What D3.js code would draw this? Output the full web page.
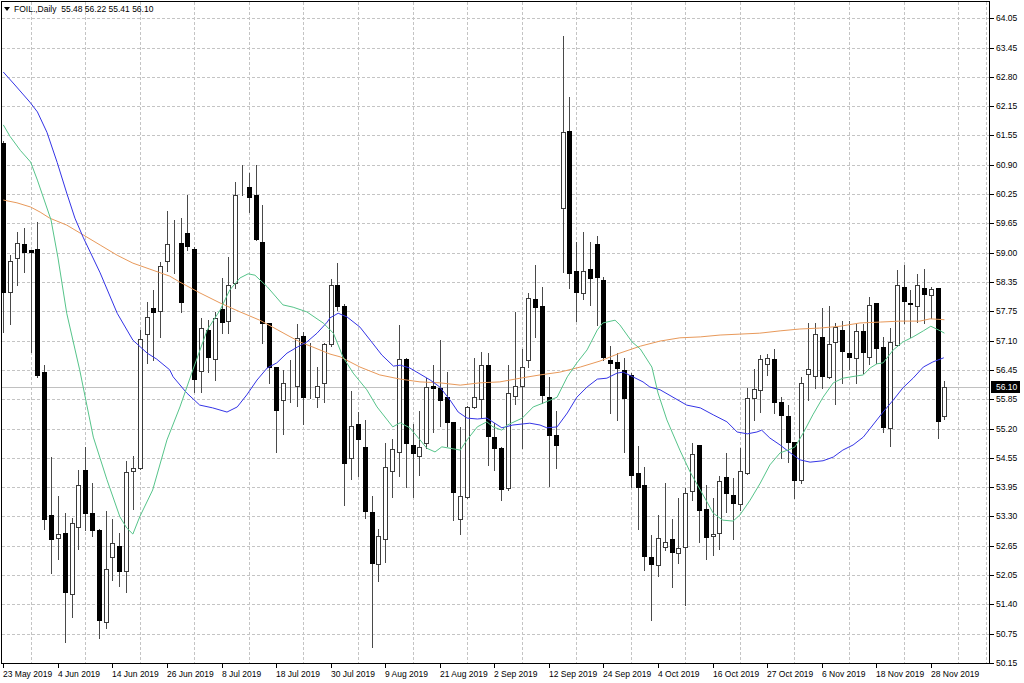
<!DOCTYPE html>
<html><head><meta charset="utf-8">
<script src="https://cdn.jsdelivr.net/npm/d3@7"></script>
<style>
body{margin:0;background:#fff}
svg{display:block}
text{font-family:"Liberation Sans",Arial,sans-serif}
</style>
</head><body>
<svg id="chart" width="1024" height="683"></svg>
<script>
// ---------- DATA ----------
const symbolTitle = "FOIL.,Daily";
const dates = [
"2019-05-23","2019-05-24","2019-05-27","2019-05-28","2019-05-29","2019-05-30","2019-05-31",
"2019-06-03","2019-06-04","2019-06-05","2019-06-06","2019-06-07","2019-06-10","2019-06-11","2019-06-12","2019-06-13","2019-06-14","2019-06-17","2019-06-18","2019-06-19","2019-06-20","2019-06-21","2019-06-24","2019-06-25","2019-06-26","2019-06-27","2019-06-28",
"2019-07-01","2019-07-02","2019-07-03","2019-07-04","2019-07-05","2019-07-08","2019-07-09","2019-07-10","2019-07-11","2019-07-12","2019-07-15","2019-07-16","2019-07-17","2019-07-18","2019-07-19","2019-07-22","2019-07-23","2019-07-24","2019-07-25","2019-07-26","2019-07-29","2019-07-30","2019-07-31",
"2019-08-01","2019-08-02","2019-08-05","2019-08-06","2019-08-07","2019-08-08","2019-08-09","2019-08-12","2019-08-13","2019-08-14","2019-08-15","2019-08-16","2019-08-19","2019-08-20","2019-08-21","2019-08-22","2019-08-23","2019-08-26","2019-08-27","2019-08-28","2019-08-29","2019-08-30",
"2019-09-02","2019-09-03","2019-09-04","2019-09-05","2019-09-06","2019-09-09","2019-09-10","2019-09-11","2019-09-12","2019-09-13","2019-09-16","2019-09-17","2019-09-18","2019-09-19","2019-09-20","2019-09-23","2019-09-24","2019-09-25","2019-09-26","2019-09-27","2019-09-30",
"2019-10-01","2019-10-02","2019-10-03","2019-10-04","2019-10-07","2019-10-08","2019-10-09","2019-10-10","2019-10-11","2019-10-14","2019-10-15","2019-10-16","2019-10-17","2019-10-18","2019-10-21","2019-10-22","2019-10-23","2019-10-24","2019-10-25","2019-10-27","2019-10-28","2019-10-29","2019-10-30","2019-10-31",
"2019-11-01","2019-11-04","2019-11-05","2019-11-06","2019-11-07","2019-11-08","2019-11-11","2019-11-12","2019-11-13","2019-11-14","2019-11-15","2019-11-18","2019-11-19","2019-11-20","2019-11-21","2019-11-22","2019-11-25","2019-11-26","2019-11-27","2019-11-28","2019-11-29",
"2019-12-02"];

const open = [61.36,58.15,58.88,59.18,59.05,59.08,56.42,53.34,52.85,52.95,51.64,53.08,54.31,53.38,53.02,51.03,52.44,52.67,52.13,54.29,
54.35,57.24,57.80,57.74,58.82,59.24,59.20,59.42,59.08,56.45,57.33,56.70,57.78,57.52,58.34,60.39,60.41,60.24,59.23,57.48,
56.53,55.82,56.20,56.12,57.20,55.89,55.89,56.19,57.03,58.30,57.85,54.57,55.30,54.81,53.41,52.28,52.82,54.29,54.70,56.70,
54.85,54.61,54.89,56.12,56.08,55.89,55.35,53.25,53.73,55.67,55.84,56.57,55.02,54.79,53.92,55.91,56.12,56.68,58.00,57.85,
55.89,55.07,59.96,61.62,58.60,58.13,58.64,59.18,58.41,56.68,56.64,56.47,56.36,54.25,53.99,52.44,52.26,52.65,52.82,52.52,
52.65,53.86,54.85,53.47,52.89,52.95,54.16,53.77,53.58,54.25,55.86,56.04,56.60,56.70,55.78,55.48,54.91,54.10,56.38,56.34,
57.18,56.32,57.07,57.33,56.83,56.73,57.31,56.75,57.91,56.96,55.22,57.00,58.26,57.91,57.85,58.23,58.08,58.23,55.48];
const high = [61.40,58.95,59.44,59.53,59.05,59.66,56.57,54.59,53.75,53.38,53.28,54.31,54.81,54.03,53.04,53.43,53.26,52.95,54.51,54.61,
57.33,57.93,58.19,58.79,59.89,59.70,59.74,60.24,59.12,57.59,57.54,57.72,58.45,58.90,60.52,60.89,60.71,60.89,60.02,57.48,
56.53,56.47,56.68,57.46,57.29,57.05,56.53,57.05,58.43,58.77,57.89,56.01,55.56,55.39,53.75,53.04,54.89,54.98,57.44,56.73,
55.30,55.58,56.29,56.57,57.11,56.42,55.35,55.24,55.70,56.73,56.85,56.83,55.32,54.81,56.57,57.72,56.92,58.13,58.73,58.26,
56.32,55.58,63.67,62.35,59.23,59.44,59.23,59.36,58.47,56.98,56.83,56.73,56.40,54.83,54.38,52.91,53.34,54.03,53.26,53.71,
53.92,54.89,54.85,53.99,53.71,54.18,54.68,54.14,54.79,56.08,56.49,56.79,56.81,56.92,55.89,55.71,54.91,56.32,57.48,57.48,
57.80,57.85,57.48,57.52,57.52,57.46,57.46,58.04,57.91,57.18,57.37,58.62,58.73,58.19,58.54,58.64,58.26,58.23,56.22];
const low = [57.29,57.46,58.30,58.58,56.85,56.32,53.04,52.09,52.40,50.60,51.14,52.61,53.02,52.89,50.69,50.91,51.94,51.81,51.68,53.47,
54.33,56.62,56.68,57.18,58.60,58.56,57.72,59.05,55.99,55.99,56.42,56.25,57.26,57.26,58.23,60.24,59.87,59.27,57.05,56.19,
54.70,55.09,55.78,55.69,55.30,55.86,55.67,55.78,56.98,57.76,53.56,54.12,54.18,53.28,50.50,51.92,52.33,53.73,54.18,53.94,
53.73,54.20,54.79,55.13,55.26,54.83,53.23,52.93,53.71,55.65,55.43,54.42,54.31,53.66,53.88,55.73,54.79,56.53,57.18,55.76,
53.97,54.35,58.58,58.23,57.52,58.00,57.87,57.44,56.68,55.54,55.39,54.70,53.94,53.04,52.16,51.08,52.03,52.59,51.79,52.31,
51.40,53.66,52.76,52.39,52.48,52.61,53.41,52.82,53.45,54.22,55.39,55.56,56.36,55.54,54.57,54.48,53.71,54.03,55.82,56.08,
56.08,56.30,55.73,56.19,56.49,56.19,56.40,56.60,56.62,55.13,54.83,56.98,57.48,57.18,57.50,57.48,57.59,55.00,55.41];
const close = [58.15,58.82,59.20,59.01,59.01,56.36,53.25,52.82,52.93,51.68,53.17,53.99,53.38,53.02,51.08,52.18,52.74,52.13,54.27,54.35,
57.14,57.61,57.72,58.71,59.18,59.25,57.93,59.14,56.27,57.37,56.75,57.59,57.50,58.30,60.24,60.40,60.20,59.29,57.48,56.53,
55.60,56.19,56.21,57.16,55.89,55.88,56.12,57.03,58.30,57.85,54.46,55.26,54.98,53.43,52.31,52.89,54.38,54.76,56.70,54.89,
54.68,54.81,56.10,56.08,55.82,55.35,53.84,53.75,55.67,55.89,56.57,55.04,54.79,53.90,55.97,56.12,56.53,58.02,57.82,55.93,
55.07,54.85,61.60,58.56,58.15,58.60,58.45,58.47,56.75,56.62,56.51,55.86,54.20,53.94,52.46,52.28,52.85,52.76,52.54,52.63,
53.82,54.66,53.45,52.87,52.93,54.07,53.82,53.60,54.29,55.86,56.06,56.70,56.73,55.78,55.50,54.91,54.10,56.19,56.49,57.24,
56.34,57.03,57.39,56.88,56.75,57.31,56.85,57.87,56.94,55.24,57.07,58.30,57.95,57.89,58.30,58.11,58.21,55.37,56.10];

// Moving averages: [bar index, value]
const maGreen = [[0,61.75],[1,61.50],[2.5,61.20],[4,60.95],[5,60.56],[6,60.13],[7,59.70],[8,58.90],[9.3,57.69],[11.2,56.47],[13.2,55.02],
[15.2,54.10],[17.1,53.30],[18.1,53.06],[19,52.93],[20,53.30],[21.9,53.88],[24,54.96],[25.9,55.67],[27.8,56.47],[29.9,57.33],
[31.8,57.76],[33.2,58.19],[34.7,58.45],[35.9,58.54],[36.9,58.51],[38.7,58.26],[41,57.87],[42.5,57.82],[44.5,57.72],[46.9,57.48],
[48.4,57.26],[49.8,56.75],[51.3,56.40],[53.3,56.04],[54.8,55.67],[56.3,55.39],[57.1,55.24],[58.2,55.33],[59.6,55.22],[61.1,54.96],
[62.1,54.78],[63.3,54.70],[64.3,54.81],[65.5,54.78],[67,54.74],[68,54.96],[69.5,55.24],[70.9,55.35],[71.8,55.24],[73.1,55.17],
[73.9,55.28],[76.1,55.43],[77.7,55.67],[79.1,55.75],[81.2,55.88],[82.7,56.32],[84.1,56.62],[85.6,56.90],[87.1,57.33],[87.9,57.48],
[89.7,57.54],[90.4,57.44],[92.2,57.07],[93.4,56.92],[95.1,56.53],[96,55.97],[97.3,55.39],[99.2,54.74],[100.7,54.27],[102.2,53.88],
[104.1,53.38],[105.5,53.23],[107,53.21],[108,53.34],[109.5,53.66],[111,54.03],[112.4,54.42],[113.9,54.68],[115.4,54.76],[116.1,54.81],
[117.3,55.11],[118.7,55.50],[120.2,55.88],[121.7,56.19],[123.1,56.29],[125.2,56.34],[126.1,56.36],[127.1,56.51],[128.1,56.60],
[129,56.62],[130.5,56.90],[131.9,57.07],[133.4,57.18],[134.9,57.31],[136,57.41],[137.4,57.31],[138,57.26]];
const maBlue = [[0,62.89],[1.7,62.61],[3.9,62.24],[5,62.03],[6.4,61.59],[7.9,60.94],[9.3,60.28],[10.5,59.74],[11.7,59.33],[14.2,58.56],
[16.7,57.69],[19,57.11],[21.1,56.83],[22.5,56.70],[24.4,56.47],[24.9,56.32],[26.9,55.97],[28.8,55.71],[30.7,55.65],[32.8,55.56],
[34.3,55.67],[35.7,55.93],[37.2,56.25],[38.7,56.51],[40.1,56.62],[41.6,56.83],[43.1,56.96],[44.5,57.07],[46,57.26],[47.5,57.50],
[47.9,57.59],[49.1,57.69],[50.4,57.61],[52.3,57.39],[53.8,57.11],[55.5,56.79],[57.2,56.55],[58.2,56.57],[59.6,56.51],[61.1,56.38],
[62.6,56.25],[64,56.10],[65.5,55.82],[66.7,55.56],[68,55.43],[69.5,55.41],[70.9,55.43],[73.1,55.22],[74.7,55.28],[77.2,55.32],
[78.7,55.28],[79.7,55.22],[81.2,55.24],[82.7,55.54],[84.1,55.88],[85.6,56.10],[87.1,56.27],[88.5,56.29],[90,56.40],[90.9,56.42],
[92.3,56.32],[93.8,56.21],[94.8,56.10],[96.3,56.04],[98.2,55.88],[100.2,55.71],[102.2,55.65],[104.1,55.50],[106.1,55.35],
[107.6,55.13],[109.1,55.09],[110.5,55.13],[111.2,55.17],[112.4,55.00],[113.9,54.85],[115.4,54.68],[116.8,54.53],[118.3,54.48],
[120.2,54.51],[121.7,54.59],[123.1,54.74],[124.6,54.85],[126.1,55.02],[127.5,55.28],[129,55.56],[130.5,55.82],[131.9,56.08],
[133.4,56.29],[134.9,56.53],[136.3,56.64],[137.9,56.73]];
const maOrange = [[0,60.13],[2,60.07],[4,59.98],[5.4,59.87],[6.8,59.74],[9.3,59.59],[11.7,59.38],[14.2,59.16],[16.7,58.94],[19,58.77],
[21.5,58.64],[24.4,58.49],[25.9,58.36],[28.8,58.13],[31.8,57.91],[34.7,57.72],[37.6,57.54],[39.5,57.39],[41.6,57.22],[43.5,57.07],
[45.4,56.96],[47.9,56.81],[49.4,56.75],[52.3,56.53],[55.2,56.36],[58.2,56.27],[61.1,56.21],[64,56.19],[67,56.14],[69.9,56.19],
[72.8,56.21],[75.8,56.29],[78.7,56.36],[81.6,56.42],[84.6,56.53],[87.5,56.66],[90.4,56.83],[93.4,56.98],[96.3,57.09],[99.2,57.16],
[102.2,57.18],[105.1,57.22],[108,57.24],[110.9,57.26],[113.9,57.31],[116.8,57.35],[119.7,57.37],[122.7,57.41],[125.6,57.48],
[128.6,57.50],[131.5,57.52],[134.4,57.52],[135.9,57.57],[138,57.55]];

const xTickLabels = ["23 May 2019","4 Jun 2019","14 Jun 2019","26 Jun 2019","8 Jul 2019","18 Jul 2019","30 Jul 2019","9 Aug 2019",
"21 Aug 2019","2 Sep 2019","12 Sep 2019","24 Sep 2019","4 Oct 2019","16 Oct 2019","27 Oct 2019","6 Nov 2019","18 Nov 2019","28 Nov 2019"];
const yTickLabels = ["64.05","63.45","62.80","62.15","61.55","60.90","60.25","59.65","59.00","58.35","57.75","57.10",
"56.45","55.85","55.20","54.55","53.95","53.30","52.65","52.05","51.40","50.75","50.15"];

// ---------- LAYOUT ----------
const W = 1024, H = 683;
const L = 2, R = 990, T = 2, B = 664;
const barStep = 6.82, firstX = 3.3;
const n = dates.length;

const svg = d3.select("#chart");
const x = d3.scaleLinear().domain([0, n - 1]).range([firstX, firstX + barStep * (n - 1)]);
const y = d3.scaleLinear().domain([50.129, 64.399]).range([B, T]);
const px = v => Math.round(v) + 0.5;

// background
svg.append("rect").attr("width", W).attr("height", H).attr("fill", "#fff");

const gridColor = "#c4c4c4";
// y tick values: evenly spaced grid matching labels
const yTop = +yTickLabels[0], yBot = +yTickLabels[yTickLabels.length - 1];
const yStep = (yTop - yBot) / (yTickLabels.length - 1);
const yTickVals = yTickLabels.map((s, i) => yTop - i * yStep);

// horizontal grid
svg.append("g").selectAll("line").data(yTickVals).join("line")
  .attr("x1", L).attr("x2", R)
  .attr("y1", d => px(y(d))).attr("y2", d => px(y(d)))
  .attr("stroke", gridColor).attr("stroke-dasharray", "3,2");

// vertical grid lines every 8 bars, offset by 4
const vGrid = d3.range(4, 145, 8);
svg.append("g").selectAll("line").data(vGrid).join("line")
  .attr("x1", d => px(x(d))).attr("x2", d => px(x(d)))
  .attr("y1", T).attr("y2", B)
  .attr("stroke", gridColor).attr("stroke-dasharray", "3,2");
svg.append("line").attr("x1", R - 3.5).attr("x2", R - 3.5).attr("y1", T).attr("y2", B)
  .attr("stroke", gridColor).attr("stroke-dasharray", "3,2");

// current price line
const last = close[n - 1];
svg.append("line").attr("x1", L).attr("x2", R)
  .attr("y1", px(y(last))).attr("y2", px(y(last)))
  .attr("stroke", "#c0c0c0");

// candles
const bars = d3.range(n).map(i => ({i, o: open[i], h: high[i], l: low[i], c: close[i]}));
const cg = svg.append("g");
cg.selectAll("line.wick").data(bars).join("line").attr("class", "wick")
  .attr("x1", d => px(x(d.i))).attr("x2", d => px(x(d.i)))
  .attr("y1", d => Math.round(y(d.h))).attr("y2", d => Math.round(y(d.l)) + 1)
  .attr("stroke", "#4a4a4a");
cg.selectAll("rect.body").data(bars).join("rect").attr("class", "body")
  .attr("x", d => Math.round(x(d.i)) - 1.5)
  .attr("width", 4)
  .attr("y", d => Math.round(y(Math.max(d.o, d.c))) + 0.5)
  .attr("height", d => Math.max(0, Math.round(y(Math.min(d.o, d.c))) - Math.round(y(Math.max(d.o, d.c)))))
  .attr("fill", d => d.c >= d.o ? "#fff" : "#000")
  .attr("stroke", d => d.c >= d.o ? "#3a3a3a" : "#000");

// moving averages
const line = d3.line().x(d => x(d[0])).y(d => y(d[1]));
const maG = svg.append("g").attr("fill", "none").attr("stroke-width", 1);
maG.append("path").attr("d", line(maOrange)).attr("stroke", "#e8995a");
maG.append("path").attr("d", line(maBlue)).attr("stroke", "#3434e6");
maG.append("path").attr("d", line(maGreen)).attr("stroke", "#56c48a");

// frame
svg.append("rect").attr("x", L - 0.5).attr("y", T - 0.5).attr("width", R - L).attr("height", B - T)
  .attr("fill", "none").attr("stroke", "#000");
// cover area right of axis (keep candles inside)
svg.append("rect").attr("x", R).attr("y", 0).attr("width", W - R).attr("height", H).attr("fill", "#fff");
svg.append("rect").attr("x", 0).attr("y", B).attr("width", W).attr("height", H - B).attr("fill", "#fff");
svg.append("line").attr("x1", R - 0.5).attr("x2", R - 0.5).attr("y1", T - 0.5).attr("y2", B).attr("stroke", "#000");
svg.append("line").attr("x1", L - 0.5).attr("x2", R).attr("y1", B - 0.5).attr("y2", B - 0.5).attr("stroke", "#000");

// right price axis
const ya = svg.append("g");
ya.selectAll("line").data(yTickVals).join("line")
  .attr("x1", R).attr("x2", R + 4)
  .attr("y1", d => px(y(d))).attr("y2", d => px(y(d)))
  .attr("stroke", "#000");
ya.selectAll("text").data(yTickVals).join("text")
  .attr("x", R + 6).attr("y", d => y(d) + 3)
  .attr("font-size", "8.5px").attr("fill", "#000")
  .text((d, i) => yTickLabels[i]);

// current price marker
const ly = y(last);
svg.append("rect").attr("x", R + 1).attr("y", Math.round(ly) - 6).attr("width", 29).attr("height", 12).attr("fill", "#000");
svg.append("text").attr("x", R + 6).attr("y", ly + 3).attr("font-size", "8.5px").attr("fill", "#fff")
  .text(last.toFixed(2));

// date axis
const parse = d3.timeParse("%d %b %Y"), iso = d3.timeFormat("%Y-%m-%d");
const xt = xTickLabels.map(s => ({s, i: dates.indexOf(iso(parse(s)))}));
const xa = svg.append("g");
xa.selectAll("line").data(xt).join("line")
  .attr("x1", d => px(x(d.i))).attr("x2", d => px(x(d.i)))
  .attr("y1", B).attr("y2", B + 4).attr("stroke", "#000");
xa.selectAll("text").data(xt).join("text")
  .attr("x", d => Math.round(x(d.i))).attr("y", B + 13)
  .attr("font-size", "8.5px").attr("fill", "#000")
  .text(d => d.s);

// header
svg.append("path").attr("d", "M4,7 L10,7 L7,11 Z").attr("fill", "#000");
const lb = n - 1;
svg.append("text").attr("x", 14).attr("y", 12).attr("font-size", "8.5px").attr("fill", "#000")
  .attr("xml:space", "preserve")
  .text(symbolTitle + "  " + [open[lb], high[lb], low[lb], close[lb]].map(v => v.toFixed(2)).join(" "));
</script>
</body></html>
